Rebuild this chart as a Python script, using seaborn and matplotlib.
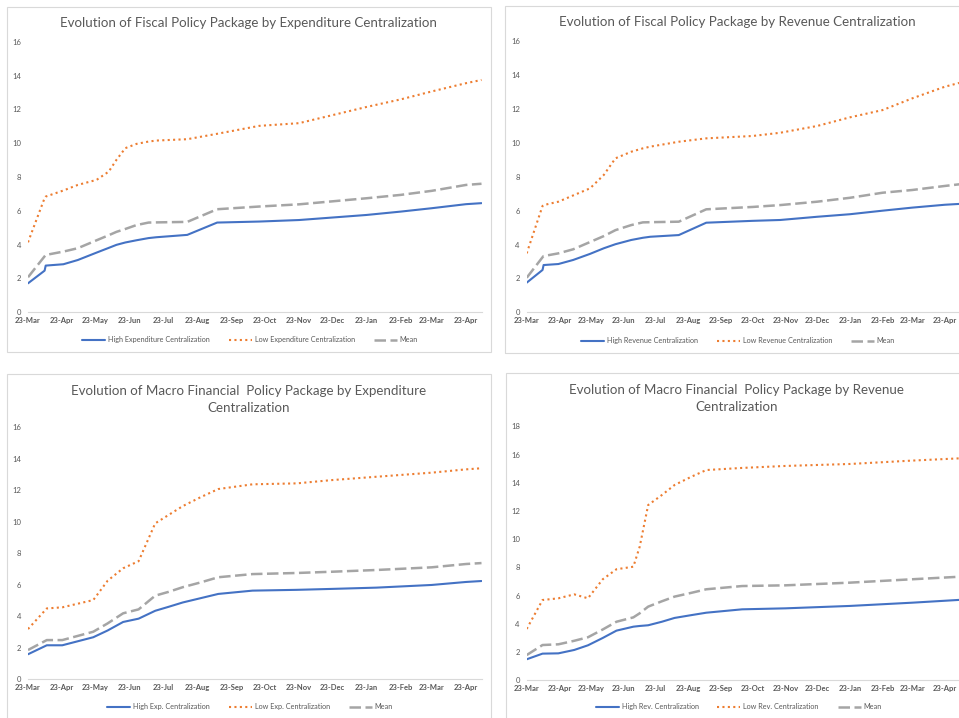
#====================================================================#
#        Evolucion de paquetes de politica por centralizacion         #
#====================================================================#
import matplotlib
matplotlib.use("Agg")
import matplotlib.pyplot as plt
import matplotlib.dates as mdates
from matplotlib.patches import Rectangle
import seaborn as sns
import pandas as pd

## Paleta estilo Excel
COLORES = {
    "HIGH": "#4472C4",   # azul
    "LOW": "#ED7D31",    # naranja
    "MEAN": "#A5A5A5",   # gris
    "TEXT": "#595959",
    "LINE": "#D9D9D9",
}

## Datos
# Fiscal - Expenditure
fechas_fe = ["2020-03-23", "2020-04-07", "2020-04-08", "2020-04-24", "2020-05-07", "2020-05-24",
             "2020-06-04", "2020-06-11", "2020-06-19", "2020-06-29", "2020-07-10", "2020-07-17",
             "2020-08-14", "2020-09-10", "2020-10-18", "2020-11-23", "2021-01-23", "2021-02-23",
             "2021-03-23", "2021-04-23", "2021-05-07"]
alta_fe = [1.70, 2.45, 2.75, 2.83, 3.08, 3.52, 3.80, 3.98, 4.12, 4.25, 4.38, 4.43, 4.57, 5.30,
           5.36, 5.45, 5.75, 5.95, 6.15, 6.39, 6.45]
baja_fe = [4.13, 6.75, 6.84, 7.20, 7.53, 7.83, 8.32, 9.02, 9.71, 9.96, 10.10, 10.16, 10.24, 10.56,
           11.03, 11.19, 12.15, 12.60, 13.07, 13.56, 13.75]
media_fe = [2.06, 3.30, 3.38, 3.58, 3.78, 4.25, 4.55, 4.75, 4.92, 5.15, 5.30, 5.31, 5.34, 6.09,
            6.25, 6.38, 6.74, 6.94, 7.18, 7.53, 7.60]

# Fiscal - Revenue
fechas_fr = ["2020-03-23", "2020-04-07", "2020-04-08", "2020-04-22", "2020-05-06", "2020-05-22",
             "2020-06-04", "2020-06-15", "2020-06-30", "2020-07-11", "2020-07-18", "2020-08-14",
             "2020-09-09", "2020-10-23", "2020-11-18", "2020-12-23", "2021-01-23", "2021-02-23",
             "2021-03-23", "2021-04-23", "2021-05-07"]
alta_fr = [1.75, 2.50, 2.79, 2.85, 3.09, 3.45, 3.78, 4.02, 4.27, 4.40, 4.46, 4.56, 5.29, 5.40,
           5.45, 5.64, 5.79, 6.00, 6.18, 6.35, 6.40]
baja_fr = [3.48, 6.28, 6.33, 6.53, 6.90, 7.32, 8.11, 9.09, 9.48, 9.68, 9.78, 10.07, 10.27, 10.41,
           10.60, 11.00, 11.51, 11.94, 12.63, 13.32, 13.55]
media_fr = [2.04, 3.25, 3.32, 3.48, 3.72, 4.15, 4.50, 4.85, 5.15, 5.31, 5.32, 5.35, 6.08, 6.22,
            6.33, 6.53, 6.76, 7.06, 7.22, 7.46, 7.56]

# Macro Financial - Expenditure
fechas_me = ["2020-03-23", "2020-04-09", "2020-04-23", "2020-05-21", "2020-06-03", "2020-06-17",
             "2020-07-01", "2020-07-16", "2020-07-28", "2020-08-10", "2020-08-26", "2020-09-11",
             "2020-10-12", "2020-11-21", "2020-12-23", "2021-02-01", "2021-03-23", "2021-04-23",
             "2021-05-07"]
alta_me = [1.59, 2.16, 2.16, 2.67, 3.10, 3.64, 3.85, 4.35, 4.60, 4.88, 5.15, 5.42, 5.63, 5.68,
           5.74, 5.82, 5.99, 6.18, 6.24]
baja_me = [3.19, 4.50, 4.57, 5.03, 6.26, 7.05, 7.50, 9.90, 10.43, 11.00, 11.56, 12.08, 12.38,
           12.44, 12.65, 12.86, 13.12, 13.33, 13.40]
media_me = [1.86, 2.49, 2.49, 3.02, 3.55, 4.19, 4.44, 5.31, 5.55, 5.85, 6.15, 6.48, 6.68, 6.75,
            6.83, 6.94, 7.11, 7.32, 7.38]

# Macro Financial - Revenue
fechas_mr = ["2020-03-23", "2020-04-07", "2020-04-22", "2020-05-07", "2020-05-20", "2020-06-03",
             "2020-06-16", "2020-07-02", "2020-07-08", "2020-07-16", "2020-07-29", "2020-08-10",
             "2020-08-26", "2020-09-09", "2020-10-13", "2020-11-23", "2021-01-23", "2021-03-23",
             "2021-05-07"]
alta_mr = [1.49, 1.89, 1.91, 2.15, 2.48, 3.00, 3.52, 3.80, 3.85, 3.90, 4.15, 4.42, 4.62, 4.79,
           5.03, 5.10, 5.27, 5.50, 5.70]
baja_mr = [3.64, 5.69, 5.81, 6.09, 5.81, 7.16, 7.87, 8.05, 9.47, 12.42, 13.13, 13.84, 14.43,
           14.90, 15.05, 15.19, 15.33, 15.57, 15.73]
media_mr = [1.79, 2.50, 2.55, 2.80, 3.05, 3.60, 4.15, 4.46, 4.75, 5.22, 5.60, 5.93, 6.20, 6.45,
            6.68, 6.73, 6.92, 7.16, 7.34]

titulos = [
    "Evolution of Fiscal Policy Package by Expenditure Centralization",
    "Evolution of Fiscal Policy Package by Revenue Centralization",
    "Evolution of Macro Financial  Policy Package by Expenditure\nCentralization",
    "Evolution of Macro Financial  Policy Package by Revenue\nCentralization",
]
leyendas = [
    ["High Expenditure Centralization", "Low Expenditure Centralization", "Mean"],
    ["High Revenue Centralization", "Low Revenue Centralization", "Mean"],
    ["High Exp. Centralization", "Low Exp. Centralization", "Mean"],
    ["High Rev. Centralization", "Low Rev. Centralization", "Mean"],
]
y_max = [16, 16, 16, 18]

W, H = 959, 718
INICIO, FIN = pd.Timestamp("2020-03-23"), pd.Timestamp("2021-05-07")
TICKS = pd.date_range("2020-03-23", "2021-04-23", freq=pd.DateOffset(months=1))


def fx(px):
    return px / W


def fy(py):
    return 1 - py / H


def panel(fig, caja, marco, fechas, alta, baja, media, ymax, nombres, titulo, t_pos, l_pos):
    x0, x1, ytop, ybot = caja
    # marco del grafico (como en Excel)
    mx0, my0, mx1, my1 = marco
    fig.add_artist(Rectangle((fx(mx0), fy(my1)), (mx1 - mx0) / W, (my1 - my0) / H,
                             transform=fig.transFigure, fill=False,
                             edgecolor=COLORES["LINE"], lw=0.8, clip_on=False))

    ax = fig.add_axes([fx(x0), fy(ybot), (x1 - x0) / W, (ybot - ytop) / H])
    df = pd.DataFrame({"fecha": pd.to_datetime(fechas), "alta": alta, "baja": baja, "media": media})

    sns.lineplot(data=df, x="fecha", y="alta", ax=ax, color=COLORES["HIGH"], lw=1.5,
                 label=nombres[0])
    sns.lineplot(data=df, x="fecha", y="baja", ax=ax, color=COLORES["LOW"], lw=1.5,
                 linestyle=(0, (1, 1.6)), label=nombres[1])
    sns.lineplot(data=df, x="fecha", y="media", ax=ax, color=COLORES["MEAN"], lw=1.8,
                 linestyle=(0, (4.6, 1.8)), label=nombres[2])

    ax.set_xlim(INICIO, FIN)
    ax.set_ylim(0, ymax)
    ax.set_yticks(range(0, ymax + 1, 2))
    ax.set_xticks(TICKS)
    ax.xaxis.set_major_formatter(mdates.DateFormatter("%d-%b"))
    ax.set_xlabel("")
    ax.set_ylabel("")
    ax.grid(False)

    for s in ["top", "right", "left"]:
        ax.spines[s].set_visible(False)
    ax.spines["bottom"].set_color(COLORES["LINE"])
    ax.spines["bottom"].set_linewidth(0.8)

    ax.tick_params(axis="both", length=0, colors=COLORES["TEXT"], labelsize=5.5)
    ax.tick_params(axis="y", pad=5)
    ax.tick_params(axis="x", pad=3.5)
    for lab in ax.get_xticklabels():
        lab.set_fontweight("bold")

    ax.legend(loc="center", bbox_to_anchor=(fx(l_pos[0]), fy(l_pos[1])),
              bbox_transform=fig.transFigure, ncol=3, frameon=False, fontsize=5.2,
              labelcolor=COLORES["TEXT"], handlelength=3.2, handletextpad=0.4,
              columnspacing=2.6)

    fig.text(fx(t_pos[0]), fy(t_pos[1]), titulo, ha="center", va="center",
             fontsize=9.6, color=COLORES["TEXT"], linespacing=1.55)
    return ax


sns.set_theme(style="white")
plt.rcParams["font.family"] = ["Lato", "DejaVu Sans"]

fig = plt.figure(figsize=(W / 100, H / 100), dpi=100)
fig.patch.set_facecolor("white")

panel(fig, (28, 481.5, 42, 312), (7, 7, 491, 352), fechas_fe, alta_fe, baja_fe, media_fe,
      y_max[0], leyendas[0], titulos[0], (248, 23), (250, 340))
panel(fig, (526.7, 959.7, 41.3, 312.3), (505, 6, 969, 353), fechas_fr, alta_fr, baja_fr, media_fr,
      y_max[1], leyendas[1], titulos[1], (737, 22.5), (738, 340.7))
panel(fig, (28, 481.5, 427.3, 679.3), (7, 374, 491, 730), fechas_me, alta_me, baja_me, media_me,
      y_max[2], leyendas[2], titulos[2], (248.7, 399.7), (250, 706.7))
panel(fig, (526.7, 959.7, 426.3, 680.3), (506, 373, 969, 730), fechas_mr, alta_mr, baja_mr,
      media_mr, y_max[3], leyendas[3], titulos[3], (736.7, 398.5), (738.7, 706.7))

fig.savefig("out.png", dpi=100, facecolor="white")
